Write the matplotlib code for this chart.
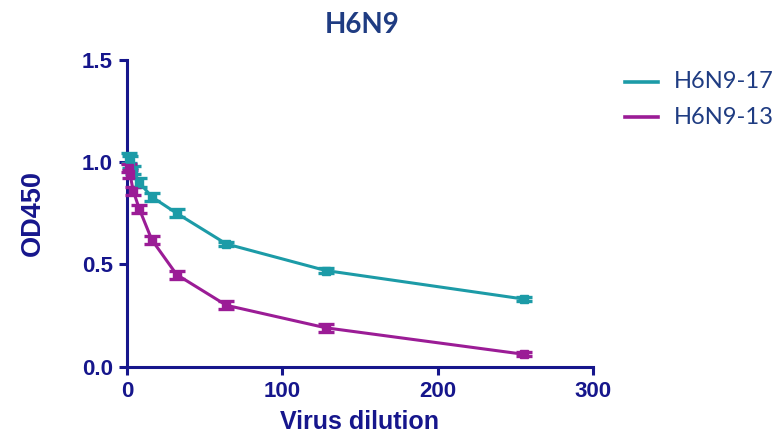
import matplotlib
matplotlib.use("Agg")
import matplotlib.pyplot as plt
from matplotlib.lines import Line2D

dilution = [1, 2, 4, 8, 16, 32, 64, 128, 256]
h6n9_17 = [1.02, 1.00, 0.96, 0.90, 0.83, 0.75, 0.60, 0.47, 0.33]
h6n9_17_err = [0.025, 0.03, 0.02, 0.02, 0.02, 0.02, 0.01, 0.01, 0.01]
h6n9_13 = [0.97, 0.94, 0.86, 0.77, 0.62, 0.45, 0.30, 0.19, 0.06]
h6n9_13_err = [0.02, 0.02, 0.02, 0.02, 0.02, 0.02, 0.02, 0.02, 0.01]
series_names = ["H6N9-17", "H6N9-13"]
xticks = [0, 100, 200, 300]
yticks = [0.0, 0.5, 1.0, 1.5]

TEAL = "#1C9BA7"
MAG = "#9B1C96"
NAVY = "#16168C"
TEXT = "#1F3C82"

W, H = 779, 437
fig = plt.figure(figsize=(W / 100, H / 100), dpi=100)
ax = fig.add_axes([0.163, 0.161, 0.598, 0.702])

colors = [TEAL, MAG]
for y, e, c, n in [(h6n9_17, h6n9_17_err, TEAL, series_names[0]),
                   (h6n9_13, h6n9_13_err, MAG, series_names[1])]:
    ax.errorbar(dilution, y, yerr=e, color=c, lw=2.2, elinewidth=2.2,
                capsize=6, capthick=2.4, marker="s", markersize=6,
                label=n, clip_on=False, zorder=3)

ax.set_xlim(0, 300)
ax.set_ylim(0, 1.5)
ax.set_xticks(xticks)
ax.set_yticks(yticks)
ax.set_xticklabels([str(v) for v in xticks])
ax.set_yticklabels([f"{v:.1f}" for v in yticks])
for s in ["top", "right"]:
    ax.spines[s].set_visible(False)
for s in ["left", "bottom"]:
    ax.spines[s].set_color(NAVY)
    ax.spines[s].set_linewidth(2.2)
ax.tick_params(colors=NAVY, width=2.2, length=6, labelsize=16, pad=4)
for lab in ax.get_xticklabels() + ax.get_yticklabels():
    lab.set_fontweight("bold")
    lab.set_family("Liberation Sans")

ax.set_xlabel("Virus dilution", fontsize=18, fontweight="bold", color=NAVY,
              family="Liberation Sans", labelpad=6)
ax.set_ylabel("OD450", fontsize=19.5, fontweight="bold", color=NAVY,
              family="Liberation Sans", labelpad=26)
fig.text(362 / W, 1 - 25 / H, "H6N9", ha="center", va="center", fontsize=20,
         fontweight="bold", color=TEXT, family="Lato")

# legend drawn manually in figure pixel coordinates
for i, (name, c) in enumerate(zip(series_names, colors)):
    ypix = 82 + i * 35
    fig.add_artist(Line2D([625 / W, 658 / W], [1 - ypix / H, 1 - ypix / H],
                          color=c, lw=2.6, transform=fig.transFigure))
    fig.text(674 / W, 1 - ypix / H, name, ha="left", va="center",
             fontsize=17, color=TEXT, family="Lato")

fig.savefig("out.png", dpi=100)
